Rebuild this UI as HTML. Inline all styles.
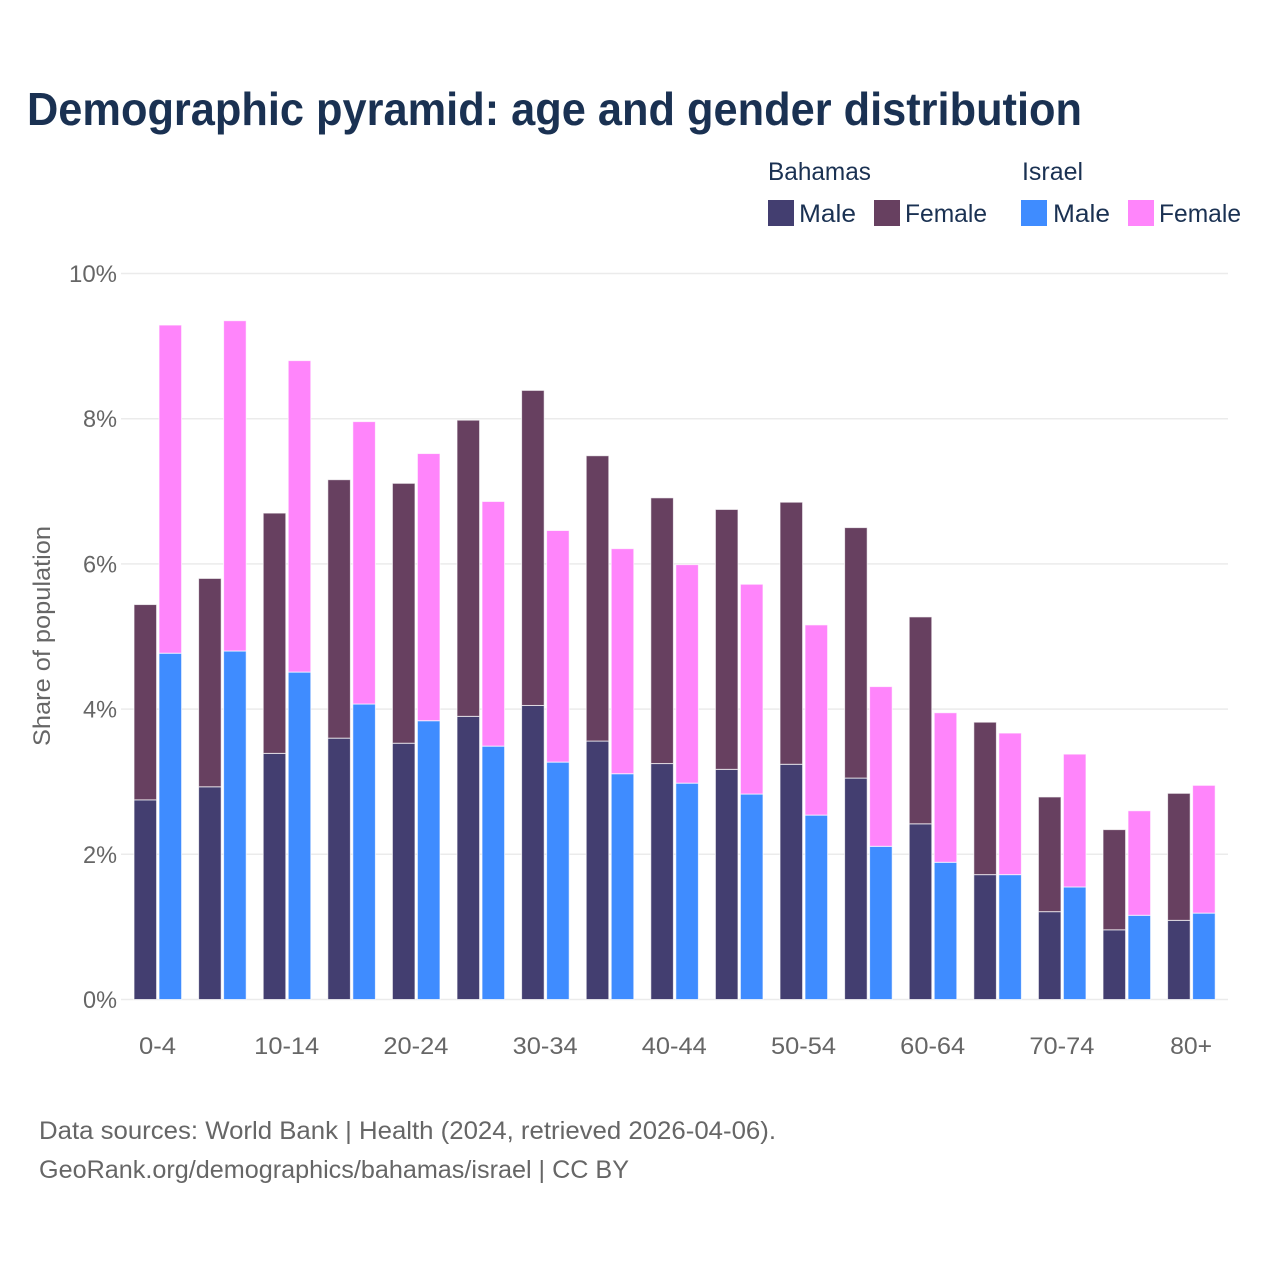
<!DOCTYPE html>
<html lang="en">
<head>
<meta charset="utf-8">
<title>Demographic pyramid: age and gender distribution</title>
<style>
html,body{margin:0;padding:0;background:#fff;}
svg{display:block;font-family:"Liberation Sans",Arial,sans-serif;}
</style>
</head>
<body>
<svg id="chart" xmlns="http://www.w3.org/2000/svg" width="1280" height="1280" viewBox="0 0 1280 1280">
  <rect x="0" y="0" width="1280" height="1280" fill="#ffffff"/>
  <text x="27" y="125" font-size="46" font-weight="700" fill="#1a3152" textLength="1055" lengthAdjust="spacingAndGlyphs">Demographic pyramid: age and gender distribution</text>

  <g font-size="25" fill="#1a3152">
    <text x="768" y="180" textLength="103" lengthAdjust="spacingAndGlyphs">Bahamas</text>
    <text x="1022" y="180" textLength="61" lengthAdjust="spacingAndGlyphs">Israel</text>
    <rect x="768" y="200" width="26" height="26" fill="#433e70"/>
    <text x="799" y="222" textLength="57" lengthAdjust="spacingAndGlyphs">Male</text>
    <rect x="874" y="200" width="26" height="26" fill="#674060"/>
    <text x="905" y="222" textLength="82" lengthAdjust="spacingAndGlyphs">Female</text>
    <rect x="1021" y="200" width="26" height="26" fill="#3f8cff"/>
    <text x="1053" y="222" textLength="57" lengthAdjust="spacingAndGlyphs">Male</text>
    <rect x="1128" y="200" width="26" height="26" fill="#ff85fb"/>
    <text x="1159" y="222" textLength="82" lengthAdjust="spacingAndGlyphs">Female</text>
  </g>

  <g id="grid"></g>
  <g id="yticks" font-size="24" fill="#666666" text-anchor="end"></g>
  <g id="bars"></g>
  <g id="xticks" font-size="24" fill="#666666" text-anchor="middle"></g>

  <text transform="translate(50,636) rotate(-90)" font-size="24" fill="#666666" text-anchor="middle" textLength="220" lengthAdjust="spacingAndGlyphs">Share of population</text>

  <text x="39" y="1139" font-size="25" fill="#666666" textLength="737" lengthAdjust="spacingAndGlyphs">Data sources: World Bank | Health (2024, retrieved 2026-04-06).</text>
  <text x="39" y="1178" font-size="25" fill="#666666" textLength="590" lengthAdjust="spacingAndGlyphs">GeoRank.org/demographics/bahamas/israel | CC BY</text>
</svg>
<script>
const categories = ["0-4","5-9","10-14","15-19","20-24","25-29","30-34","35-39","40-44","45-49","50-54","55-59","60-64","65-69","70-74","75-79","80+"];
const bahamasMale = [2.75,2.93,3.39,3.60,3.53,3.90,4.05,3.56,3.25,3.17,3.24,3.05,2.42,1.72,1.21,0.96,1.09];
const bahamasFemale = [2.69,2.87,3.31,3.56,3.58,4.08,4.34,3.93,3.66,3.58,3.61,3.45,2.85,2.10,1.58,1.38,1.75];
const israelMale = [4.77,4.80,4.51,4.07,3.84,3.49,3.27,3.11,2.98,2.83,2.54,2.11,1.89,1.72,1.55,1.16,1.19];
const israelFemale = [4.52,4.55,4.29,3.89,3.68,3.37,3.19,3.10,3.01,2.89,2.62,2.20,2.06,1.95,1.83,1.44,1.76];
const yTicks = [0,2,4,6,8,10];

const NS = "http://www.w3.org/2000/svg";
const yScale = v => 999.5 - v * 72.6;
const xCenter = i => 158 + i * 64.6;

function addBar(group, x, base, value, fill) {
  const el = document.createElementNS(NS, "rect");
  
  
  el.setAttribute("x", x);
  el.setAttribute("y", yScale(base + value));
  el.setAttribute("width", 22.6);
  el.setAttribute("height", yScale(base) - yScale(base + value));
  el.setAttribute("fill", fill);
  el.setAttribute("stroke", "#ffffff");
  el.setAttribute("stroke-opacity", "0.7");
  el.setAttribute("stroke-width", "1");
  group.appendChild(el);
}

const grid = document.getElementById("grid");
const yLabels = document.getElementById("yticks");
yTicks.forEach(t => {
  const line = document.createElementNS(NS, "line");
  
  
  line.setAttribute("x1", 121);
  line.setAttribute("x2", 1228);
  line.setAttribute("y1", yScale(t));
  line.setAttribute("y2", yScale(t));
  line.setAttribute("stroke", "#ebebeb");
  line.setAttribute("stroke-width", "1.5");
  grid.appendChild(line);

  const label = document.createElementNS(NS, "text");
  
  
  label.setAttribute("x", 117);
  label.setAttribute("y", yScale(t) + 8.5);
  label.setAttribute("textLength", t === 10 ? 48 : 34);
  label.setAttribute("lengthAdjust", "spacingAndGlyphs");
  label.textContent = t + "%";
  yLabels.appendChild(label);
});

const bars = document.getElementById("bars");
const xLabels = document.getElementById("xticks");
categories.forEach((c, i) => {
  const cx = xCenter(i);
  addBar(bars, cx - 24, 0, bahamasMale[i], "#433e70");
  addBar(bars, cx - 24, bahamasMale[i], bahamasFemale[i], "#674060");
  addBar(bars, cx + 1, 0, israelMale[i], "#3f8cff");
  addBar(bars, cx + 1, israelMale[i], israelFemale[i], "#ff85fb");

  if (i % 2 === 0) {
    const label = document.createElementNS(NS, "text");
    
    
    label.setAttribute("x", cx - 0.5);
    label.setAttribute("y", 1054);
    label.setAttribute("textLength", c.length === 5 ? 65 : (c === "80+" ? 42 : 37));
    label.setAttribute("lengthAdjust", "spacingAndGlyphs");
    label.textContent = c;
    xLabels.appendChild(label);
  }
});
</script>
</body>
</html>
